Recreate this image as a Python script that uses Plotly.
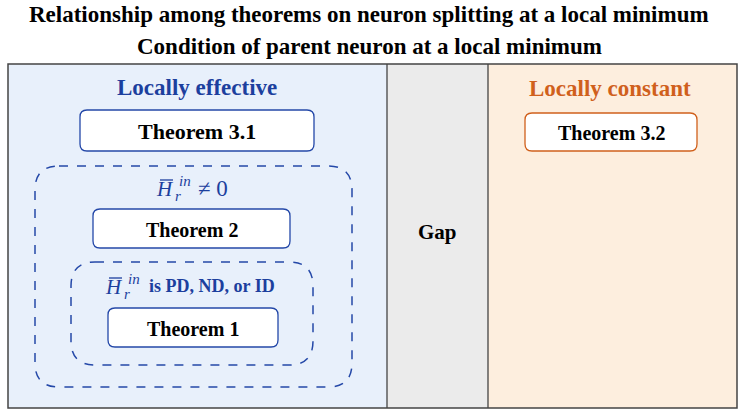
import plotly.graph_objects as go

# ---- content (text data) ----
title_lines = ["Relationship among theorems on neuron splitting at a local minimum",
               "Condition of parent neuron at a local minimum"]
column_labels = ["Locally effective", "Gap", "Locally constant"]
theorem_labels = ["Theorem 3.1", "Theorem 2", "Theorem 1", "Theorem 3.2"]
condition_symbol = ["H", "in", "r"]
condition_tails = ["≠ 0", "is PD, ND, or ID"]

# ---- layout geometry (pixels) ----
W, H = 738, 412
SERIF = "Liberation Serif"
BLUE = "#2448a8"
BLUE_TXT = "#1c3f9e"
ORANGE = "#d0601c"
FRAME = "#444444"

def rrect(x0, y0, x1, y1, r):
    return (f"M {x0+r},{y0} L {x1-r},{y0} Q {x1},{y0} {x1},{y0+r} "
            f"L {x1},{y1-r} Q {x1},{y1} {x1-r},{y1} L {x0+r},{y1} "
            f"Q {x0},{y1} {x0},{y1-r} L {x0},{y0+r} Q {x0},{y0} {x0+r},{y0} Z")

fig = go.Figure()
shapes = []
ann = []

# column backgrounds
cols = [(8, 387, "#e8f0fb"), (387, 488, "#ebebeb"), (488, 737, "#fdeede")]
for x0, x1, c in cols:
    shapes.append(dict(type="rect", x0=x0, x1=x1, y0=64, y1=408,
                       fillcolor=c, line=dict(width=0), layer="below"))
# frame & dividers
shapes.append(dict(type="rect", x0=8, x1=737, y0=64, y1=408,
                   line=dict(color=FRAME, width=1.5)))
for xd in (387, 488):
    shapes.append(dict(type="line", x0=xd, x1=xd, y0=64, y1=408,
                       line=dict(color=FRAME, width=1.3)))

# dashed condition regions
for (x0, y0, x1, y1) in [(35, 166, 352, 387), (71, 262, 313, 365)]:
    shapes.append(dict(type="path", path=rrect(x0, y0, x1, y1, 24),
                       line=dict(color=BLUE, width=1.5, dash="dash")))

# theorem boxes
boxes = [(80, 110, 314, 151, BLUE, 22), (93, 209, 290, 248, BLUE, 20),
         (108, 308, 278, 347, BLUE, 20), (525, 113, 697, 151, ORANGE, 20)]
for label, (x0, y0, x1, y1, col, fs) in zip(theorem_labels, boxes):
    shapes.append(dict(type="path", path=rrect(x0, y0, x1, y1, 7),
                       fillcolor="white", line=dict(color=col, width=1.3)))
    ann.append(dict(x=(x0 + x1) / 2, y=(y0 + y1) / 2 + 1, text=f"<b>{label}</b>",
                    showarrow=False, font=dict(family=SERIF, size=fs, color="black")))

# titles
for txt, yy in zip(title_lines, (14, 46)):
    ann.append(dict(x=W / 2, y=yy, text=f"<b>{txt}</b>", showarrow=False,
                    font=dict(family=SERIF, size=23, color="black")))

# column labels
for txt, (xx, yy, col) in zip(column_labels, [(197, 87, BLUE_TXT), (437, 232, "black"), (610, 88, ORANGE)]):
    ann.append(dict(x=xx, y=yy, text=f"<b>{txt}</b>", showarrow=False,
                    font=dict(family=SERIF, size=23 if txt != "Gap" else 21, color=col)))

# condition labels:  H-bar ^in _r  + tail
conds = [  # (H x, H y, tail x, tail y, bold tail)
    (165, 189, 213, 188, False),
    (114, 287, 212, 286, True),
]
for (hx, hy, tx, ty, bold), tail in zip(conds, condition_tails):
    ann.append(dict(x=hx, y=hy, text=f"<i>{condition_symbol[0]}</i>", showarrow=False,
                    font=dict(family=SERIF, size=21, color=BLUE_TXT)))
    shapes.append(dict(type="line", x0=hx - 5, x1=hx + 8, y0=hy - 9, y1=hy - 9,
                       line=dict(color=BLUE_TXT, width=1.3)))
    ann.append(dict(x=hx + 20, y=hy - 8, text=f"<i>{condition_symbol[1]}</i>", showarrow=False,
                    font=dict(family=SERIF, size=15, color=BLUE_TXT)))
    ann.append(dict(x=hx + 13, y=hy + 7, text=f"<i>{condition_symbol[2]}</i>", showarrow=False,
                    font=dict(family=SERIF, size=15, color=BLUE_TXT)))
    ann.append(dict(x=tx, y=ty, text=f"<b>{tail}</b>" if bold else tail, showarrow=False,
                    font=dict(family=SERIF, size=18 if bold else 23, color=BLUE_TXT)))

fig.update_layout(
    width=W, height=H, margin=dict(l=0, r=0, t=0, b=0),
    paper_bgcolor="white", plot_bgcolor="white",
    xaxis=dict(range=[0, W], visible=False, fixedrange=True),
    yaxis=dict(range=[H, 0], visible=False, fixedrange=True),
    shapes=shapes, annotations=ann, showlegend=False,
)
fig.write_html("out.html", config=dict(displayModeBar=False),
               post_script="document.body.style.margin='0';document.body.style.overflow='hidden';")
